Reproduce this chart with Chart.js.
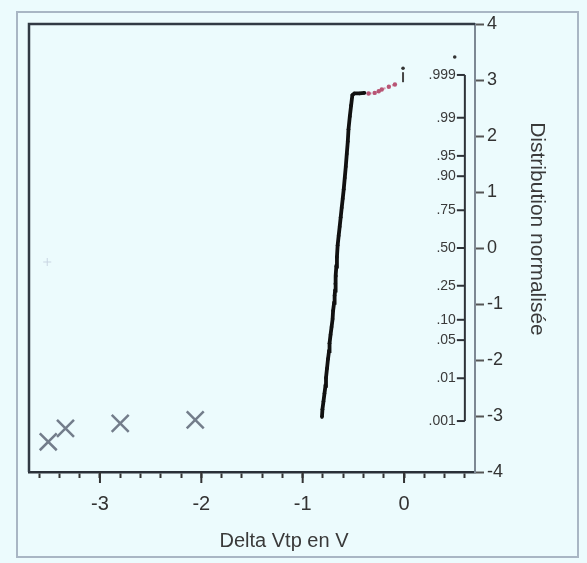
<!DOCTYPE html>
<html><head><meta charset="utf-8">
<script src="https://cdn.jsdelivr.net/npm/chart.js@4.4.1/dist/chart.umd.min.js"></script>
<style>html,body{margin:0;padding:0;background:#ecfbfd;}#wrap{width:587px;height:563px;position:relative;}canvas{display:block;}</style>
</head><body><div id="wrap"><canvas id="c" width="587" height="563"></canvas></div>
<script>
// ---- data ----
const mainX = [-0.81,-0.805,-0.795,-0.785,-0.775,-0.77,-0.76,-0.75,-0.74,-0.735,-0.725,-0.715,-0.705,-0.70,-0.69,-0.685,-0.68,-0.678,-0.672,-0.668,-0.662,-0.655,-0.645,-0.635,-0.625,-0.615,-0.605,-0.595,-0.585,-0.575,-0.565,-0.555,-0.548,-0.535,-0.522,-0.51,-0.49,-0.44,-0.39];
const mainY = [-3.02,-2.88,-2.74,-2.60,-2.46,-2.32,-2.15,-1.98,-1.84,-1.70,-1.55,-1.41,-1.27,-1.12,-0.98,-0.85,-0.76,-0.64,-0.50,-0.33,-0.16,0.05,0.22,0.38,0.55,0.72,0.88,1.05,1.25,1.45,1.68,1.90,2.12,2.35,2.55,2.73,2.76,2.76,2.77];
const tailX = [-0.35,-0.29,-0.25,-0.22,-0.15,-0.09];
const tailY = [2.76,2.77,2.80,2.83,2.88,2.92];
const outlierX = [-3.51,-3.34,-2.80,-2.06];
const outlierY = [-3.46,-3.22,-3.13,-3.07];
const barX = [-0.01];
const barY = [3.05];
const dotX = [-0.01,0.50];
const dotY = [3.21,3.41];
const faintX = [-3.52];
const faintY = [-0.25];
const xTickValues = [-3.6,-3.4,-3.2,-3.0,-2.8,-2.6,-2.4,-2.2,-2.0,-1.8,-1.6,-1.4,-1.2,-1.0,-0.8,-0.6,-0.4,-0.2,0.0,0.2,0.4,0.6];
const xMajor = [-3,-2,-1,0];
const yTickValues = [-4,-3,-2,-1,0,1,2,3,4];
const probLabels = ['.001','.01','.05','.10','.25','.50','.75','.90','.95','.99','.999'];
const probZ = [-3.09,-2.326,-1.645,-1.282,-0.674,0,0.674,1.282,1.645,2.326,3.09];
const xTitle = 'Delta Vtp en V';
const yTitle = 'Distribution normalisée';
const probAxisX = 0.6;

const pts = (xs, ys) => xs.map((v, i) => ({x: v, y: ys[i]}));
const FONT = '"Liberation Sans", Arial, sans-serif';

const decor = {
  id: 'decor',
  beforeDraw(chart) {
    const {ctx, width, height} = chart;
    ctx.save();
    ctx.fillStyle = '#ecfbfd';
    ctx.fillRect(0, 0, width, height);
    ctx.strokeStyle = '#a9b6c4';
    ctx.lineWidth = 2;
    ctx.strokeRect(17, 12, 561, 545);
    ctx.restore();
  },
  afterDraw(chart) {
    const {ctx, chartArea: a, scales: {x, y}} = chart;
    ctx.save();
    ctx.strokeStyle = '#323a44';
    ctx.lineWidth = 2.5;
    ctx.beginPath();
    ctx.moveTo(a.left, a.bottom);
    ctx.lineTo(a.left, a.top);
    ctx.lineTo(a.right, a.top);
    ctx.stroke();
    ctx.lineWidth = 2;
    ctx.strokeStyle = '#333';
    xMajor.forEach(v => {
      const px = x.getPixelForValue(v);
      ctx.beginPath(); ctx.moveTo(px, a.bottom); ctx.lineTo(px, a.bottom + 11); ctx.stroke();
    });
    const ax = x.getPixelForValue(probAxisX);
    ctx.strokeStyle = '#2e3238';
    ctx.beginPath();
    ctx.moveTo(ax, y.getPixelForValue(probZ[probZ.length - 1]));
    ctx.lineTo(ax, y.getPixelForValue(probZ[0]));
    ctx.stroke();
    ctx.font = '14px ' + FONT;
    ctx.fillStyle = '#3a3a3a';
    ctx.textAlign = 'right';
    ctx.textBaseline = 'middle';
    probZ.forEach((z, i) => {
      const py = y.getPixelForValue(z);
      ctx.beginPath(); ctx.moveTo(ax, py); ctx.lineTo(ax - 8, py); ctx.stroke();
      ctx.fillText(probLabels[i], ax - 9, py);
    });
    ctx.font = '20px ' + FONT;
    ctx.fillStyle = '#3a3a3a';
    ctx.textAlign = 'center';
    ctx.fillText(xTitle, 284, 541);
    ctx.font = '21px ' + FONT;
    ctx.translate(537, 229);
    ctx.rotate(Math.PI / 2);
    ctx.fillText(yTitle, 0, 0);
    ctx.restore();
  }
};

new Chart(document.getElementById('c'), {
  type: 'scatter',
  data: {
    datasets: [
      {label: 'main', data: pts(mainX, mainY), showLine: true, borderColor: '#111', backgroundColor: '#111', borderWidth: 3.8, pointRadius: 1.8, pointBorderWidth: 0, tension: 0},
      {label: 'tail', data: pts(tailX, tailY), showLine: true, borderColor: '#dba0b2', borderDash: [3, 2], borderWidth: 2, backgroundColor: '#b85575', pointRadius: 2.2, pointBorderWidth: 0},
      {label: 'outliers', data: pts(outlierX, outlierY), pointStyle: 'crossRot', pointRadius: 12, borderColor: '#737d8b', borderWidth: 2.5, backgroundColor: '#737d8b'},
      {label: 'bar', data: pts(barX, barY), pointStyle: 'line', rotation: 90, pointRadius: 5, borderColor: '#444', borderWidth: 2},
      {label: 'dots', data: pts(dotX, dotY), pointRadius: 1.8, backgroundColor: '#333', pointBorderWidth: 0},
      {label: 'faint', data: pts(faintX, faintY), pointStyle: 'cross', pointRadius: 4, borderColor: '#c9d5e2', borderWidth: 1}
    ]
  },
  options: {
    responsive: false,
    devicePixelRatio: 1,
    animation: false,
    layout: {padding: {left: 29, top: 24, right: 0, bottom: 0}},
    plugins: {legend: {display: false}, tooltip: {enabled: false}},
    scales: {
      x: {
        type: 'linear', position: 'bottom', min: -3.7, max: 0.7,
        afterBuildTicks: s => { s.ticks = xTickValues.map(v => ({value: v})); },
        afterFit: s => { s.height = 91; },
        grid: {drawOnChartArea: false, drawTicks: true, tickLength: 6, tickColor: '#333', tickWidth: 2},
        border: {display: true, color: '#2a3038', width: 2.5},
        ticks: {autoSkip: false, maxRotation: 0, minRotation: 0, padding: 14, color: '#333', font: {size: 20, family: FONT},
          callback: v => Math.abs(v - Math.round(v)) < 1e-6 ? String(Math.round(v)) : ''}
      },
      y: {
        type: 'linear', position: 'right', min: -4, max: 4,
        afterBuildTicks: s => { s.ticks = yTickValues.map(v => ({value: v})); },
        afterFit: s => { s.width = 112; },
        grid: {drawOnChartArea: false, drawTicks: true, tickLength: 9, tickColor: '#555', tickWidth: 2},
        border: {display: true, color: '#7d8894', width: 2},
        ticks: {padding: 3, color: '#333', font: {size: 18, family: FONT}}
      }
    }
  },
  plugins: [decor]
});
</script></body></html>
